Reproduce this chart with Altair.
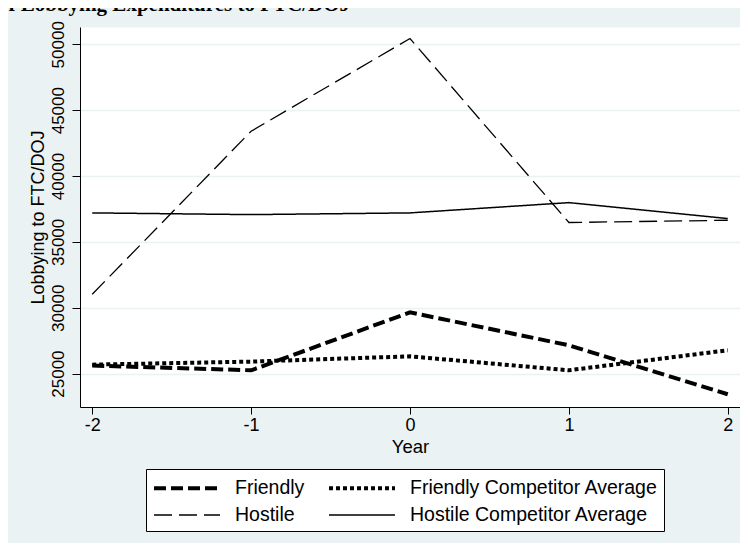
import altair as alt
import pandas as pd

years = [-2, -1, 0, 1, 2]
series_names = ["Friendly", "Friendly Competitor Average", "Hostile", "Hostile Competitor Average"]
friendly = [25610, 25250, 29650, 27150, 23430]
friendly_comp = [25680, 25910, 26310, 25250, 26770]
hostile = [31020, 43400, 50440, 36470, 36640]
hostile_comp = [37200, 37070, 37200, 37980, 36770]
y_ticks = [25000, 30000, 35000, 40000, 45000, 50000]
x_ticks = [-2, -1, 0, 1, 2]
title_text = "of Lobbying Expenditures to FTC/DOJ"

rows = []
for name, vals in zip(series_names, [friendly, friendly_comp, hostile, hostile_comp]):
    for yr, v in zip(years, vals):
        rows.append({"series": name, "year": yr, "value": v})
df = pd.DataFrame(rows)

dashes = [[12, 5], [4, 3], [18, 7], [1, 0]]
widths = [4, 4, 1.3, 1.5]

legend = alt.Legend(
    title=None, orient="none", legendX=66, legendY=442, columns=2, direction="horizontal",
    symbolType="M-3,0H3", symbolSize=484, symbolOffset=22, symbolStrokeColor="black",
    labelFont="Liberation Sans", labelFontSize=19.5, labelColor="black",
    labelOffset=35, labelLimit=400, columnPadding=16, rowPadding=5,
    padding=6, fillColor="white", strokeColor="black", cornerRadius=0,
)

lines = alt.Chart(df).mark_line(color="black").encode(
    x=alt.X("year:Q", scale=alt.Scale(domain=[-2.077, 2.077], nice=False, zero=False),
            axis=alt.Axis(values=x_ticks, title="Year", grid=False, tickSize=7,
                          labelPadding=2, labelFontSize=18, labelFont="Liberation Sans",
                          labelColor="black", labelExpr="datum.value + ''",
                          titleFontSize=18.5, titleFont="Liberation Sans", titleFontWeight="normal",
                          titleColor="black", titleY=30, titleBaseline="top",
                          domainColor="black", tickColor="black")),
    y=alt.Y("value:Q", scale=alt.Scale(domain=[22464, 51313], nice=False, zero=False),
            axis=alt.Axis(values=y_ticks, title="Lobbying to FTC/DOJ", grid=True,
                          gridColor="#EAF2F3", gridWidth=1.5, tickSize=8,
                          labelAngle=270, labelAlign="center", labelBaseline="bottom",
                          labelPadding=5, labelFontSize=17, labelFont="Liberation Sans",
                          labelColor="black", labelExpr="datum.value + ''",
                          titleFontSize=18, titleFont="Liberation Sans", titleFontWeight="normal",
                          titleColor="black", titleAngle=270, titleBaseline="bottom", titleX=-33,
                          domainColor="black", tickColor="black")),
    strokeDash=alt.StrokeDash("series:N", scale=alt.Scale(domain=series_names, range=dashes), legend=legend),
    strokeWidth=alt.StrokeWidth("series:N", scale=alt.Scale(type="ordinal", domain=series_names, range=widths), legend=legend),
    detail="series:N",
)

title_layer = alt.Chart(pd.DataFrame({"label": [title_text]})).mark_text(
    align="left", baseline="alphabetic", font="Liberation Serif", fontWeight="bold",
    fontSize=21, color="black"
).encode(x=alt.value(-82), y=alt.value(-16), text="label:N")

chart = alt.layer(lines, title_layer).properties(
    width=660, height=380,
    padding={"left": 72, "top": 19, "right": 0, "bottom": 136},
    autosize=alt.AutoSizeParams(type="none"),
    background="#EAF2F3",
).configure_view(fill="white", stroke="transparent")

chart.save("out.html", embed_options={"renderer": "svg", "actions": False})
